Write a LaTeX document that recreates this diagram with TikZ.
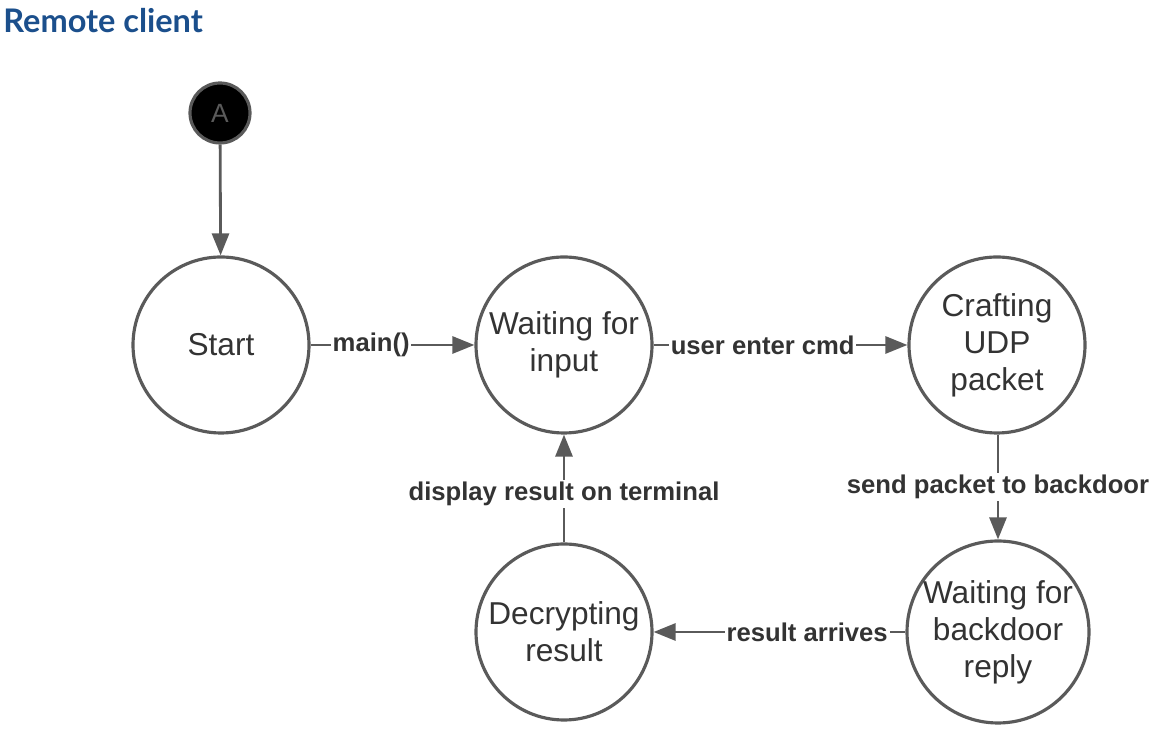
\documentclass[tikz,border=0pt]{standalone}
\usepackage{fontspec}
\setmainfont{Liberation Sans}
\newfontfamily\titlefont{Lato}
\usetikzlibrary{arrows.meta}

\definecolor{linegrey}{HTML}{5A5A5A}
\definecolor{textgrey}{HTML}{333333}
\definecolor{titleblue}{HTML}{1B4F8C}

\tikzset{
	state/.style={circle, draw=linegrey, line width=1.8pt, minimum size=3.52cm, inner sep=0pt,
		align=center, font=\fontsize{18}{21}\selectfont, text=textgrey},
	startdot/.style={circle, fill=black, draw=linegrey, line width=1.8pt, minimum size=1.2cm,
		inner sep=0pt, font=\fontsize{15}{18}\selectfont, text=linegrey},
	flow/.style={-{Triangle[length=0.44cm, width=0.34cm]}, draw=linegrey, line width=1.6pt},
	lbl/.style={fill=white, inner sep=1pt, text=textgrey, font=\bfseries\fontsize{14.6}{17}\selectfont}
}

\begin{document}
\begin{tikzpicture}
	\useasboundingbox (0, 0) rectangle (23.12, 14.64);

	\node [anchor=base west, inner sep=0pt, text=titleblue, font=\titlefont\bfseries\fontsize{18.5}{22}\selectfont] (title) at (0.06, 13.98) {Remote client};

	\node [startdot] (a) at (4.40, 12.38) {A};

	\node [state] (start) at (4.42, 7.74) {Start};
	\node [state] (waitinput) at (11.28, 7.74) {Waiting for\\input};
	\node [state] (crafting) at (19.94, 7.74) {Crafting\\UDP\\packet};

	\node [state] (waitreply) at (19.96, 2.00) {Waiting for\\backdoor\\reply};
	\node [state] (decrypt) at (11.28, 2.00) {Decrypting\\result};

	\draw [flow] (a) -- (start);
	\draw [flow] (start) -- node [lbl, pos=0.37] {main()} (waitinput);
	\draw [flow] (waitinput) -- node [lbl, pos=0.43] {user enter cmd} (crafting);
	\draw [flow] (crafting.south -| waitreply.north) -- node [lbl] {send packet to backdoor} (waitreply.north);
	\draw [flow] (waitreply) -- node [lbl, pos=0.39] {result arrives} (decrypt);
	\draw [flow] (decrypt) -- node [lbl, pos=0.45] {display result on terminal} (waitinput);

\end{tikzpicture}
\end{document}
